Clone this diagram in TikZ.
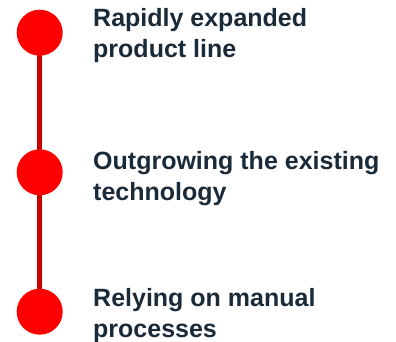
\documentclass[tikz,border=0pt]{standalone}
\usepackage{fontspec}
\setmainfont{Liberation Sans}
\usetikzlibrary{backgrounds}
\definecolor{dotred}{HTML}{FF0000}
\definecolor{linered}{HTML}{C80000}
\definecolor{txt}{HTML}{1B2A38}
\begin{document}
\begin{tikzpicture}[x=1pt,y=1pt,
  dot/.style={circle,fill=dotred,minimum size=46pt,inner sep=0pt},
  label/.style={anchor=base west,inner sep=0pt,text=txt,font=\fontsize{25}{31}\selectfont\bfseries}]
\useasboundingbox (0,0) rectangle (396,342);
\node[dot] (d1) at (39.7,309.3) {};
\node[dot] (d2) at (39.7,169.7) {};
\node[dot] (d3) at (39.7,30.3) {};
\begin{scope}[on background layer]
\draw[linered,line width=4.5pt] (d1.center) -- (d2.center) -- (d3.center);
\end{scope}
\node[label] (t1) at (93,315.3) {\begin{tabular}[t]{@{}l@{}}Rapidly expanded\\product line\end{tabular}};
\node[label] (t2) at (93,172) {\begin{tabular}[t]{@{}l@{}}Outgrowing the existing\\technology\end{tabular}};
\node[label] (t3) at (93,35.3) {\begin{tabular}[t]{@{}l@{}}Relying on manual\\processes\end{tabular}};
\end{tikzpicture}
\end{document}
